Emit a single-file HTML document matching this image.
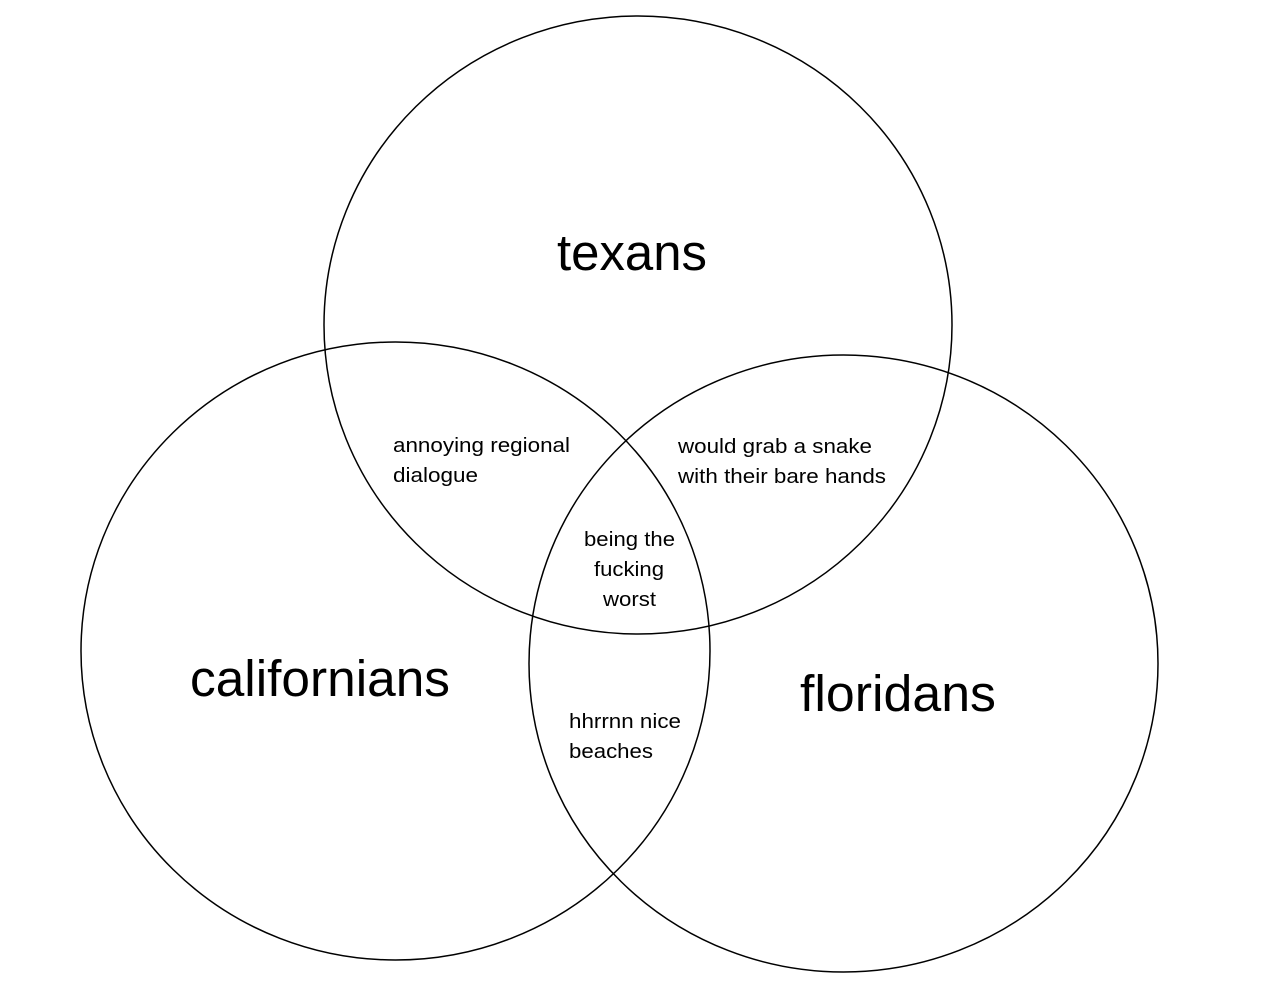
<!DOCTYPE html>
<html>
<head>
<meta charset="utf-8">
<style>
html,body{margin:0;padding:0;background:#fff;}
svg{display:block;}
text{font-family:"Liberation Sans",Arial,sans-serif;fill:#000;}
</style>
</head>
<body>
<svg width="1280" height="1000" viewBox="0 0 1280 1000" xmlns="http://www.w3.org/2000/svg">
<rect width="1280" height="1000" fill="#fff"/>
<g fill="none" stroke="#000" stroke-width="1.5">
<ellipse cx="638" cy="325" rx="314" ry="309"/>
<ellipse cx="395.5" cy="651" rx="314.5" ry="309"/>
<ellipse cx="843.5" cy="663.5" rx="314.5" ry="308.5"/>
</g>
<g font-size="51" lengthAdjust="spacingAndGlyphs">
<text x="557" y="270" textLength="150" lengthAdjust="spacingAndGlyphs">texans</text>
<text x="190" y="696" textLength="260" lengthAdjust="spacingAndGlyphs">californians</text>
<text x="800" y="711" textLength="196" lengthAdjust="spacingAndGlyphs">floridans</text>
</g>
<g font-size="20.5">
<text x="393" y="452" textLength="177" lengthAdjust="spacingAndGlyphs">annoying regional</text>
<text x="393" y="482" textLength="85" lengthAdjust="spacingAndGlyphs">dialogue</text>
<text x="678" y="453" textLength="194" lengthAdjust="spacingAndGlyphs">would grab a snake</text>
<text x="678" y="483" textLength="208" lengthAdjust="spacingAndGlyphs">with their bare hands</text>
<text x="584" y="546" textLength="91" lengthAdjust="spacingAndGlyphs">being the</text>
<text x="594" y="576" textLength="70" lengthAdjust="spacingAndGlyphs">fucking</text>
<text x="603" y="606" textLength="53" lengthAdjust="spacingAndGlyphs">worst</text>
<text x="569" y="728" textLength="112" lengthAdjust="spacingAndGlyphs">hhrrnn nice</text>
<text x="569" y="758" textLength="84" lengthAdjust="spacingAndGlyphs">beaches</text>
</g>
</svg>
</body>
</html>
